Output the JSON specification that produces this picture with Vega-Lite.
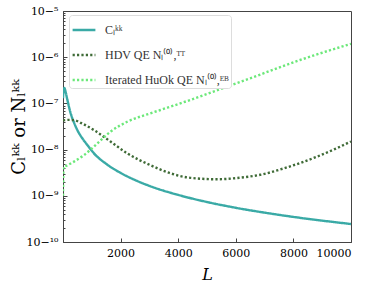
{
  "$schema": "https://vega.github.io/schema/vega-lite/v6.json",
  "width": 288,
  "height": 231,
  "autosize": {"type": "none"},
  "padding": {"left": 63, "top": 11, "right": 23, "bottom": 43},
  "config": {
    "view": {"stroke": "#444", "strokeWidth": 1},
    "font": "DejaVu Serif"
  },
  "data": {
    "values": [
      {"L": 2, "v": 1.3e-7, "s": "Cₗᵏᵏ"},
      {"L": 20, "v": 1.9e-7, "s": "Cₗᵏᵏ"},
      {"L": 50, "v": 2.15e-7, "s": "Cₗᵏᵏ"},
      {"L": 90, "v": 1.8e-7, "s": "Cₗᵏᵏ"},
      {"L": 154, "v": 1.19e-7, "s": "Cₗᵏᵏ"},
      {"L": 268, "v": 6.1e-8, "s": "Cₗᵏᵏ"},
      {"L": 380, "v": 3.9e-8, "s": "Cₗᵏᵏ"},
      {"L": 500, "v": 2.65e-8, "s": "Cₗᵏᵏ"},
      {"L": 700, "v": 1.66e-8, "s": "Cₗᵏᵏ"},
      {"L": 846, "v": 1.26e-8, "s": "Cₗᵏᵏ"},
      {"L": 1076, "v": 8.3e-9, "s": "Cₗᵏᵏ"},
      {"L": 1500, "v": 4.92e-9, "s": "Cₗᵏᵏ"},
      {"L": 2000, "v": 3.13e-9, "s": "Cₗᵏᵏ"},
      {"L": 2500, "v": 2.2e-9, "s": "Cₗᵏᵏ"},
      {"L": 3000, "v": 1.64e-9, "s": "Cₗᵏᵏ"},
      {"L": 4000, "v": 1.045e-9, "s": "Cₗᵏᵏ"},
      {"L": 5000, "v": 7.34e-10, "s": "Cₗᵏᵏ"},
      {"L": 6000, "v": 5.5e-10, "s": "Cₗᵏᵏ"},
      {"L": 7000, "v": 4.32e-10, "s": "Cₗᵏᵏ"},
      {"L": 8000, "v": 3.49e-10, "s": "Cₗᵏᵏ"},
      {"L": 9000, "v": 2.9e-10, "s": "Cₗᵏᵏ"},
      {"L": 10000, "v": 2.45e-10, "s": "Cₗᵏᵏ"},
      {"L": 2, "v": 4.3e-8, "s": "HDV QE Nₗ⁽⁰⁾,ᵀᵀ"},
      {"L": 200, "v": 4.4e-8, "s": "HDV QE Nₗ⁽⁰⁾,ᵀᵀ"},
      {"L": 383, "v": 4.35e-8, "s": "HDV QE Nₗ⁽⁰⁾,ᵀᵀ"},
      {"L": 615, "v": 3.8e-8, "s": "HDV QE Nₗ⁽⁰⁾,ᵀᵀ"},
      {"L": 1076, "v": 2.65e-8, "s": "HDV QE Nₗ⁽⁰⁾,ᵀᵀ"},
      {"L": 1653, "v": 1.49e-8, "s": "HDV QE Nₗ⁽⁰⁾,ᵀᵀ"},
      {"L": 2230, "v": 8.3e-9, "s": "HDV QE Nₗ⁽⁰⁾,ᵀᵀ"},
      {"L": 3038, "v": 4.6e-9, "s": "HDV QE Nₗ⁽⁰⁾,ᵀᵀ"},
      {"L": 3731, "v": 3.07e-9, "s": "HDV QE Nₗ⁽⁰⁾,ᵀᵀ"},
      {"L": 4424, "v": 2.45e-9, "s": "HDV QE Nₗ⁽⁰⁾,ᵀᵀ"},
      {"L": 5347, "v": 2.28e-9, "s": "HDV QE Nₗ⁽⁰⁾,ᵀᵀ"},
      {"L": 6155, "v": 2.47e-9, "s": "HDV QE Nₗ⁽⁰⁾,ᵀᵀ"},
      {"L": 6848, "v": 2.85e-9, "s": "HDV QE Nₗ⁽⁰⁾,ᵀᵀ"},
      {"L": 7655, "v": 3.9e-9, "s": "HDV QE Nₗ⁽⁰⁾,ᵀᵀ"},
      {"L": 8810, "v": 7e-9, "s": "HDV QE Nₗ⁽⁰⁾,ᵀᵀ"},
      {"L": 9503, "v": 1.07e-8, "s": "HDV QE Nₗ⁽⁰⁾,ᵀᵀ"},
      {"L": 10000, "v": 1.5e-8, "s": "HDV QE Nₗ⁽⁰⁾,ᵀᵀ"},
      {"L": 2, "v": 1.0e-9, "s": "Iterated HuOk QE Nₗ⁽⁰⁾,ᴱᴮ"},
      {"L": 20, "v": 4.2e-9, "s": "Iterated HuOk QE Nₗ⁽⁰⁾,ᴱᴮ"},
      {"L": 60, "v": 4.3e-9, "s": "Iterated HuOk QE Nₗ⁽⁰⁾,ᴱᴮ"},
      {"L": 383, "v": 5.5e-9, "s": "Iterated HuOk QE Nₗ⁽⁰⁾,ᴱᴮ"},
      {"L": 730, "v": 7.6e-9, "s": "Iterated HuOk QE Nₗ⁽⁰⁾,ᴱᴮ"},
      {"L": 1076, "v": 1.16e-8, "s": "Iterated HuOk QE Nₗ⁽⁰⁾,ᴱᴮ"},
      {"L": 1653, "v": 2.45e-8, "s": "Iterated HuOk QE Nₗ⁽⁰⁾,ᴱᴮ"},
      {"L": 2230, "v": 4.0e-8, "s": "Iterated HuOk QE Nₗ⁽⁰⁾,ᴱᴮ"},
      {"L": 3038, "v": 6.1e-8, "s": "Iterated HuOk QE Nₗ⁽⁰⁾,ᴱᴮ"},
      {"L": 3385, "v": 7.2e-8, "s": "Iterated HuOk QE Nₗ⁽⁰⁾,ᴱᴮ"},
      {"L": 4424, "v": 1.19e-7, "s": "Iterated HuOk QE Nₗ⁽⁰⁾,ᴱᴮ"},
      {"L": 5000, "v": 1.6e-7, "s": "Iterated HuOk QE Nₗ⁽⁰⁾,ᴱᴮ"},
      {"L": 6501, "v": 3.5e-7, "s": "Iterated HuOk QE Nₗ⁽⁰⁾,ᴱᴮ"},
      {"L": 8232, "v": 8.7e-7, "s": "Iterated HuOk QE Nₗ⁽⁰⁾,ᴱᴮ"},
      {"L": 10000, "v": 1.95e-6, "s": "Iterated HuOk QE Nₗ⁽⁰⁾,ᴱᴮ"}
    ]
  },
  "mark": {"type": "line", "strokeWidth": 2.4, "interpolate": "monotone", "clip": true},
  "encoding": {
    "x": {
      "field": "L", "type": "quantitative",
      "scale": {"domain": [2, 10000], "nice": false, "zero": false},
      "axis": {
        "title": "L", "titleFont": "DejaVu Serif", "titleFontStyle": "italic", "titleFontWeight": "normal",
        "titleFontSize": 16, "titleColor": "#000", "titlePadding": 8,
        "values": [2000, 4000, 6000, 8000, 10000], "format": "d",
        "labelFont": "DejaVu Serif", "labelFontSize": 11, "labelColor": "#000", "labelPadding": 9,
        "tickSize": -4, "tickColor": "#444", "domainColor": "#444", "grid": false
      }
    },
    "y": {
      "field": "v", "type": "quantitative",
      "scale": {"type": "log", "domain": [1e-10, 1e-5], "nice": false},
      "axis": {
        "title": "Cₗᵏᵏ or Nₗᵏᵏ", "titleFont": "DejaVu Serif", "titleFontWeight": "normal",
        "titleFontSize": 18, "titleColor": "#000", "titlePadding": -3,
        "values": [1e-10, 2e-10, 3e-10, 4e-10, 5e-10, 6e-10, 7e-10, 8e-10, 9e-10,
                   1e-9, 2e-9, 3e-9, 4e-9, 5e-9, 6e-9, 7e-9, 8e-9, 9e-9,
                   1e-8, 2e-8, 3e-8, 4e-8, 5e-8, 6e-8, 7e-8, 8e-8, 9e-8,
                   1e-7, 2e-7, 3e-7, 4e-7, 5e-7, 6e-7, 7e-7, 8e-7, 9e-7,
                   1e-6, 2e-6, 3e-6, 4e-6, 5e-6, 6e-6, 7e-6, 8e-6, 9e-6, 1e-5],
        "labelExpr": "abs(log(datum.value)/LN10 - round(log(datum.value)/LN10)) < 0.001 ? ('10' + replace(replace(replace(replace(replace(replace(replace(format(round(log(datum.value)/LN10), 'd'), '-', '⁻'), '10', '¹⁰'), '5', '⁵'), '6', '⁶'), '7', '⁷'), '8', '⁸'), '9', '⁹')) : ''",
        "labelFont": "DejaVu Serif", "labelFontSize": 11, "labelColor": "#000", "labelPadding": 9,
        "tickSize": {"condition": {"test": "abs(log(datum.value)/LN10 - round(log(datum.value)/LN10)) < 0.001", "value": -4}, "value": -2},
        "tickColor": "#444", "domainColor": "#444", "grid": false
      }
    },
    "color": {
      "field": "s", "type": "nominal",
      "scale": {
        "domain": ["Cₗᵏᵏ", "HDV QE Nₗ⁽⁰⁾,ᵀᵀ", "Iterated HuOk QE Nₗ⁽⁰⁾,ᴱᴮ"],
        "range": ["#3aaaa6", "#3f6b37", "#6ce87a"]
      },
      "legend": {
        "title": null, "orient": "none", "legendX": 6, "legendY": 4,
        "symbolType": "stroke", "symbolSize": 520, "symbolStrokeWidth": 2.4,
        "labelFont": "Liberation Serif", "labelFontSize": 12, "labelColor": "#333", "labelOffset": 8,
        "rowPadding": 6, "padding": 2, "strokeColor": "#ddd", "cornerRadius": 3, "fillColor": "white"
      }
    },
    "strokeDash": {
      "field": "s", "type": "nominal",
      "scale": {
        "domain": ["Cₗᵏᵏ", "HDV QE Nₗ⁽⁰⁾,ᵀᵀ", "Iterated HuOk QE Nₗ⁽⁰⁾,ᴱᴮ"],
        "range": [[1, 0], [2.2, 2.2], [2.2, 2.2]]
      },
      "legend": null
    }
  }
}
